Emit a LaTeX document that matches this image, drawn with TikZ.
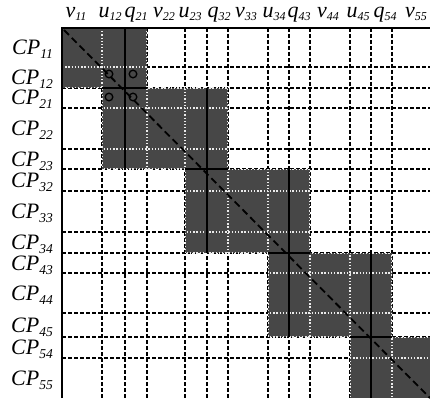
\documentclass[tikz,border=0pt]{standalone}
\usepackage{fontspec}
\setmainfont{Liberation Serif}
\newcommand\collab[2]{\fontsize{22}{22}\selectfont\itshape #1\raisebox{-3pt}{\fontsize{12}{12}\selectfont #2}}
\newcommand\rowlab[2]{\fontsize{22}{22}\selectfont\itshape #1\raisebox{-4pt}{\fontsize{13.5}{13.5}\selectfont #2}}
\definecolor{blockgray}{gray}{0.28}
\begin{document}
\begin{tikzpicture}[x=1pt,y=-1pt,
  gridline/.style={black,line width=1.3pt,dash pattern=on 4pt off 2pt},
  innerline/.style={white!92!black,line width=1.2pt,dash pattern=on 1.3pt off 1.9pt},
  solidline/.style={black,line width=1.2pt},
  diagline/.style={black,line width=1.8pt,dash pattern=on 7pt off 4pt},
  blockfill/.style={fill=blockgray},
  clab/.style={anchor=base,inner sep=0pt},
  rlab/.style={anchor=base east,inner sep=0pt},
  mark circle/.style={black,line width=1.3pt}]
\useasboundingbox (0,0) rectangle (430,398);
\fill[white] (0,0) rectangle (430,398);
% grid
\foreach \x in {102,125,147,185,207,228,268,289,310,350,371,392}
  \draw[gridline] (\x,28) -- (\x,398);
\foreach \y in {67,88,108,149,169,191,232,253,273,313,337,358}
  \draw[gridline] (62,\y) -- (430,\y);
% blocks
\foreach \a/\b/\c/\d in {62/28/147/88,102/88/228/169,185/169/310/253,268/253/392/337,350/337/430/398}{
  \fill[blockfill] (\a,\b) rectangle (\c,\d);
  \begin{scope}
    \clip (\a,\b) rectangle (\c,\d);
    \foreach \x in {102,147,185,228,268,310,350,392}
      \draw[innerline] (\x,28) -- (\x,398);
    \foreach \y in {67,88,108,149,169,191,232,253,273,313,337,358}
      \draw[innerline] (62,\y) -- (430,\y);
  \end{scope}
}
% solid lines in blocks
\draw[solidline] (125,28) -- (125,169);
\draw[solidline] (207,88) -- (207,253);
\draw[solidline] (289,169) -- (289,337);
\draw[solidline] (371,253) -- (371,398);
\draw[solidline] (102,88) -- (147,88);
\draw[solidline] (185,169) -- (228,169);
\draw[solidline] (268,253) -- (310,253);
\draw[solidline] (350,337) -- (392,337);
% frame
\draw[black,line width=1.3pt] (62,398) -- (62,28) -- (430,28);
% diagonal
\draw[diagline] (64,30) -- (430,398);
% circles
\foreach \cx/\cy in {109/74,133/74,109/97,133/97}
  \draw[mark circle] (\cx,\cy) circle (3.8);
% column labels
\node[clab] (c1) at (76,18) {\collab{v}{11}};
\node[clab] (c2) at (110,18) {\collab{u}{12}};
\node[clab] (c3) at (136,18) {\collab{q}{21}};
\node[clab] (c4) at (164,18) {\collab{v}{22}};
\node[clab] (c5) at (190,18) {\collab{u}{23}};
\node[clab] (c6) at (219,18) {\collab{q}{32}};
\node[clab] (c7) at (246,18) {\collab{v}{33}};
\node[clab] (c8) at (274,18) {\collab{u}{34}};
\node[clab] (c9) at (299,18) {\collab{q}{43}};
\node[clab] (c10) at (328,18) {\collab{v}{44}};
\node[clab] (c11) at (358,18) {\collab{u}{45}};
\node[clab] (c12) at (385,18) {\collab{q}{54}};
\node[clab] (c13) at (416,18) {\collab{v}{55}};
% row labels
\node[rlab] (r1) at (53,54.5) {\rowlab{CP}{11}};
\node[rlab] (r2) at (53,84.5) {\rowlab{CP}{12}};
\node[rlab] (r3) at (53,105) {\rowlab{CP}{21}};
\node[rlab] (r4) at (53,135.5) {\rowlab{CP}{22}};
\node[rlab] (r5) at (53,166) {\rowlab{CP}{23}};
\node[rlab] (r6) at (53,187) {\rowlab{CP}{32}};
\node[rlab] (r7) at (53,218.5) {\rowlab{CP}{33}};
\node[rlab] (r8) at (53,249.5) {\rowlab{CP}{34}};
\node[rlab] (r9) at (53,270) {\rowlab{CP}{43}};
\node[rlab] (r10) at (53,300) {\rowlab{CP}{44}};
\node[rlab] (r11) at (53,332) {\rowlab{CP}{45}};
\node[rlab] (r12) at (53,354.5) {\rowlab{CP}{54}};
\node[rlab] (r13) at (53,385) {\rowlab{CP}{55}};
\end{tikzpicture}
\end{document}
